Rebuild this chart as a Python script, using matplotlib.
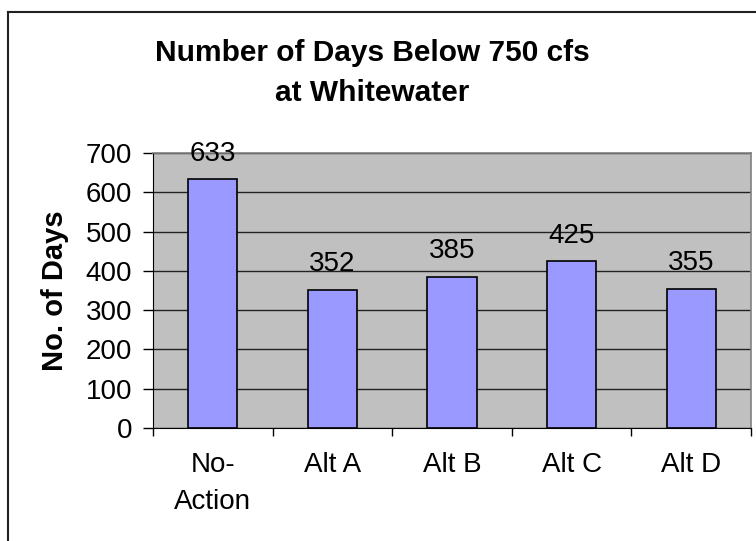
import matplotlib
matplotlib.use('Agg')
import matplotlib.pyplot as plt
import numpy as np

plt.rcParams['font.family'] = ['Liberation Sans', 'DejaVu Sans']

# data
categories = ['No-\nAction', 'Alt A', 'Alt B', 'Alt C', 'Alt D']
days = [633, 352, 385, 425, 355]
yticks = [0, 100, 200, 300, 400, 500, 600, 700]

fig = plt.figure(figsize=(7.56, 5.41), dpi=100)
fig.patch.set_facecolor('white')

# outer chart border (only top/left visible in the crop)
fig.add_artist(plt.Line2D([8 / 756, 8 / 756], [0, 1 - 12 / 541], color='#222222', lw=1.5))
fig.add_artist(plt.Line2D([8 / 756, 1], [1 - 12 / 541, 1 - 12 / 541], color='#222222', lw=1.5))

ax = fig.add_axes([153 / 756, 1 - 428 / 541, (751 - 153) / 756, (428 - 153) / 541])
ax.set_facecolor('#C0C0C0')

x = np.arange(len(categories))
bars = ax.bar(x, days, width=0.41, color='#9999FF', edgecolor='black', linewidth=1.2, zorder=3)

for xi, v in zip(x, days):
    ax.annotate(str(v), (xi, v), xytext=(0, 9), textcoords='offset points',
                ha='center', va='bottom', fontsize=20, zorder=4)

ax.set_xlim(-0.5, len(categories) - 0.5)
ax.set_ylim(0, 700)
ax.set_yticks(yticks)
ax.tick_params(axis='y', labelsize=20, length=7, width=1, direction='out', pad=8)
ax.yaxis.grid(True, color='#222222', lw=1, zorder=1)
ax.set_axisbelow(True)

ax.set_xticks(x)
ax.set_xticklabels(categories, fontsize=20, va='top', linespacing=1.55)
ax.tick_params(axis='x', length=0, pad=17)
ax.set_xticks(np.arange(len(categories) + 1) - 0.5, minor=True)
ax.tick_params(axis='x', which='minor', length=6, width=1, direction='out')

for side in ['top', 'right']:
    ax.spines[side].set_color('#808080')
    ax.spines[side].set_linewidth(1.2)
ax.spines['left'].set_color('black')
ax.spines['bottom'].set_color('black')

ax.set_ylabel('No. of Days', fontsize=21, fontweight='bold', labelpad=12)

fig.text(372 / 756, 1 - 73 / 541, 'Number of Days Below 750 cfs\nat Whitewater',
         ha='center', va='center', fontsize=21.5, fontweight='bold', linespacing=1.54)

fig.savefig('out.png', dpi=100, facecolor='white')
plt.close()
